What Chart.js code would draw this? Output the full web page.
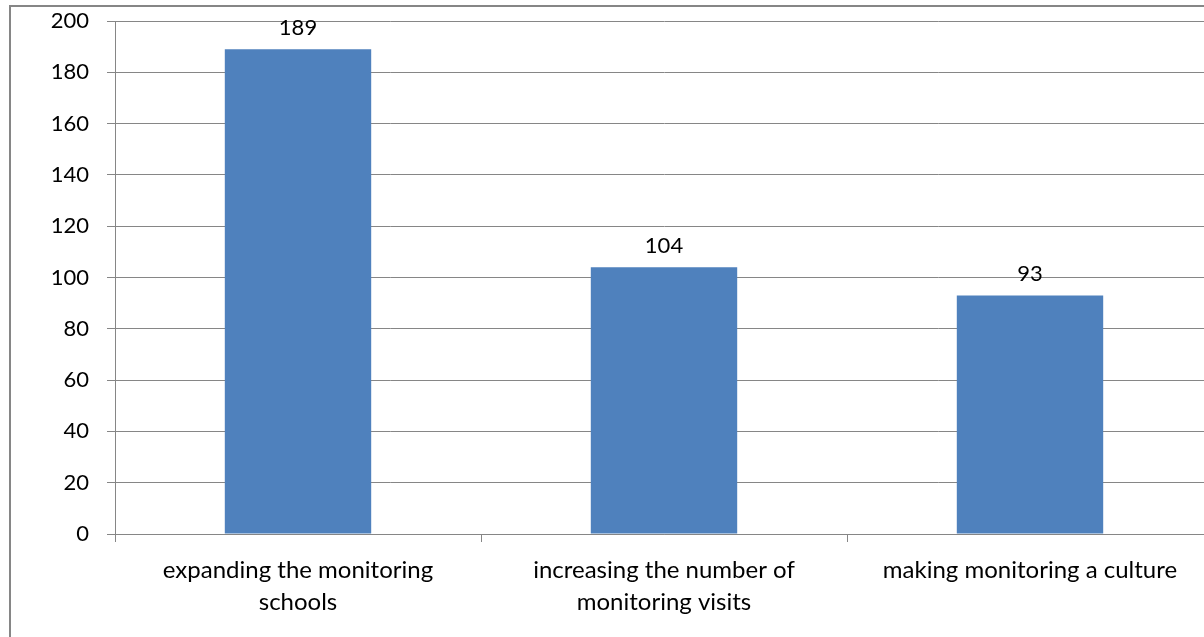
<!DOCTYPE html>
<html>
<head>
<meta charset="utf-8">
<script src="https://cdn.jsdelivr.net/npm/chart.js@4"></script>
<style>
  html, body { margin: 0; padding: 0; background: #fff; overflow: hidden; width: 1204px; height: 637px; }
  #frame { position: absolute; left: 9px; top: 5px; width: 1400px; height: 800px;
           border-left: 2px solid #868686; border-top: 2px solid #868686; }
  #wrap { position: absolute; left: 0; top: 0; width: 1240px; height: 660px; }
</style>
</head>
<body>
<div id="frame"></div>
<div id="wrap"><canvas id="chart"></canvas></div>
<script>
// data
const categories = [
  ['expanding the monitoring', 'schools'],
  ['increasing the number of', 'monitoring visits'],
  'making monitoring a culture'
];
const values = [189, 104, 93];
const yTicks = [0, 20, 40, 60, 80, 100, 120, 140, 160, 180, 200];

const FONT = 'Lato';

// value labels above each bar
const barLabels = {
  id: 'barLabels',
  afterDatasetsDraw(chart) {
    const ctx = chart.ctx;
    const meta = chart.getDatasetMeta(0);
    ctx.save();
    ctx.font = '22px ' + FONT;
    ctx.fillStyle = '#000';
    ctx.textAlign = 'center';
    ctx.textBaseline = 'alphabetic';
    meta.data.forEach((bar, i) => {
      ctx.fillText(values[i], bar.x, bar.y - 14);
    });
    ctx.restore();
  }
};

new Chart(document.getElementById('chart'), {
  type: 'bar',
  data: {
    labels: categories,
    datasets: [{
      data: values,
      backgroundColor: '#4f81bd',
      borderWidth: 0,
      categoryPercentage: 1,
      barPercentage: 0.4
    }]
  },
  options: {
    responsive: true, maintainAspectRatio: false,
    animation: false,
    layout: { padding: { left: 0, top: 21, right: 27, bottom: 0 } },
    plugins: { legend: { display: false }, tooltip: { enabled: false } },
    scales: {
      x: {
        offset: true,
        grid: { drawOnChartArea: false, drawTicks: true, tickLength: 8, offset: true, color: '#868686' },
        border: { display: true, color: '#868686' },
        ticks: { color: '#000', font: { family: FONT, size: 24, lineHeight: 1.3 }, padding: 13, maxRotation: 0, autoSkip: false },
        afterFit: s => { s.height = 126; s.paddingLeft = 0; s.paddingRight = 0; }
      },
      y: {
        min: 0, max: 200,
        afterBuildTicks: s => { s.ticks = yTicks.map(v => ({ value: v })); },
        grid: { color: '#868686', tickLength: 8 },
        border: { display: true, color: '#868686' },
        ticks: { color: '#000', font: { family: FONT, size: 22 }, padding: 18 },
        afterFit: s => { s.width = 115; s.paddingTop = 0; s.paddingBottom = 0; }
      }
    }
  },
  plugins: [barLabels]
});
</script>
</body>
</html>
